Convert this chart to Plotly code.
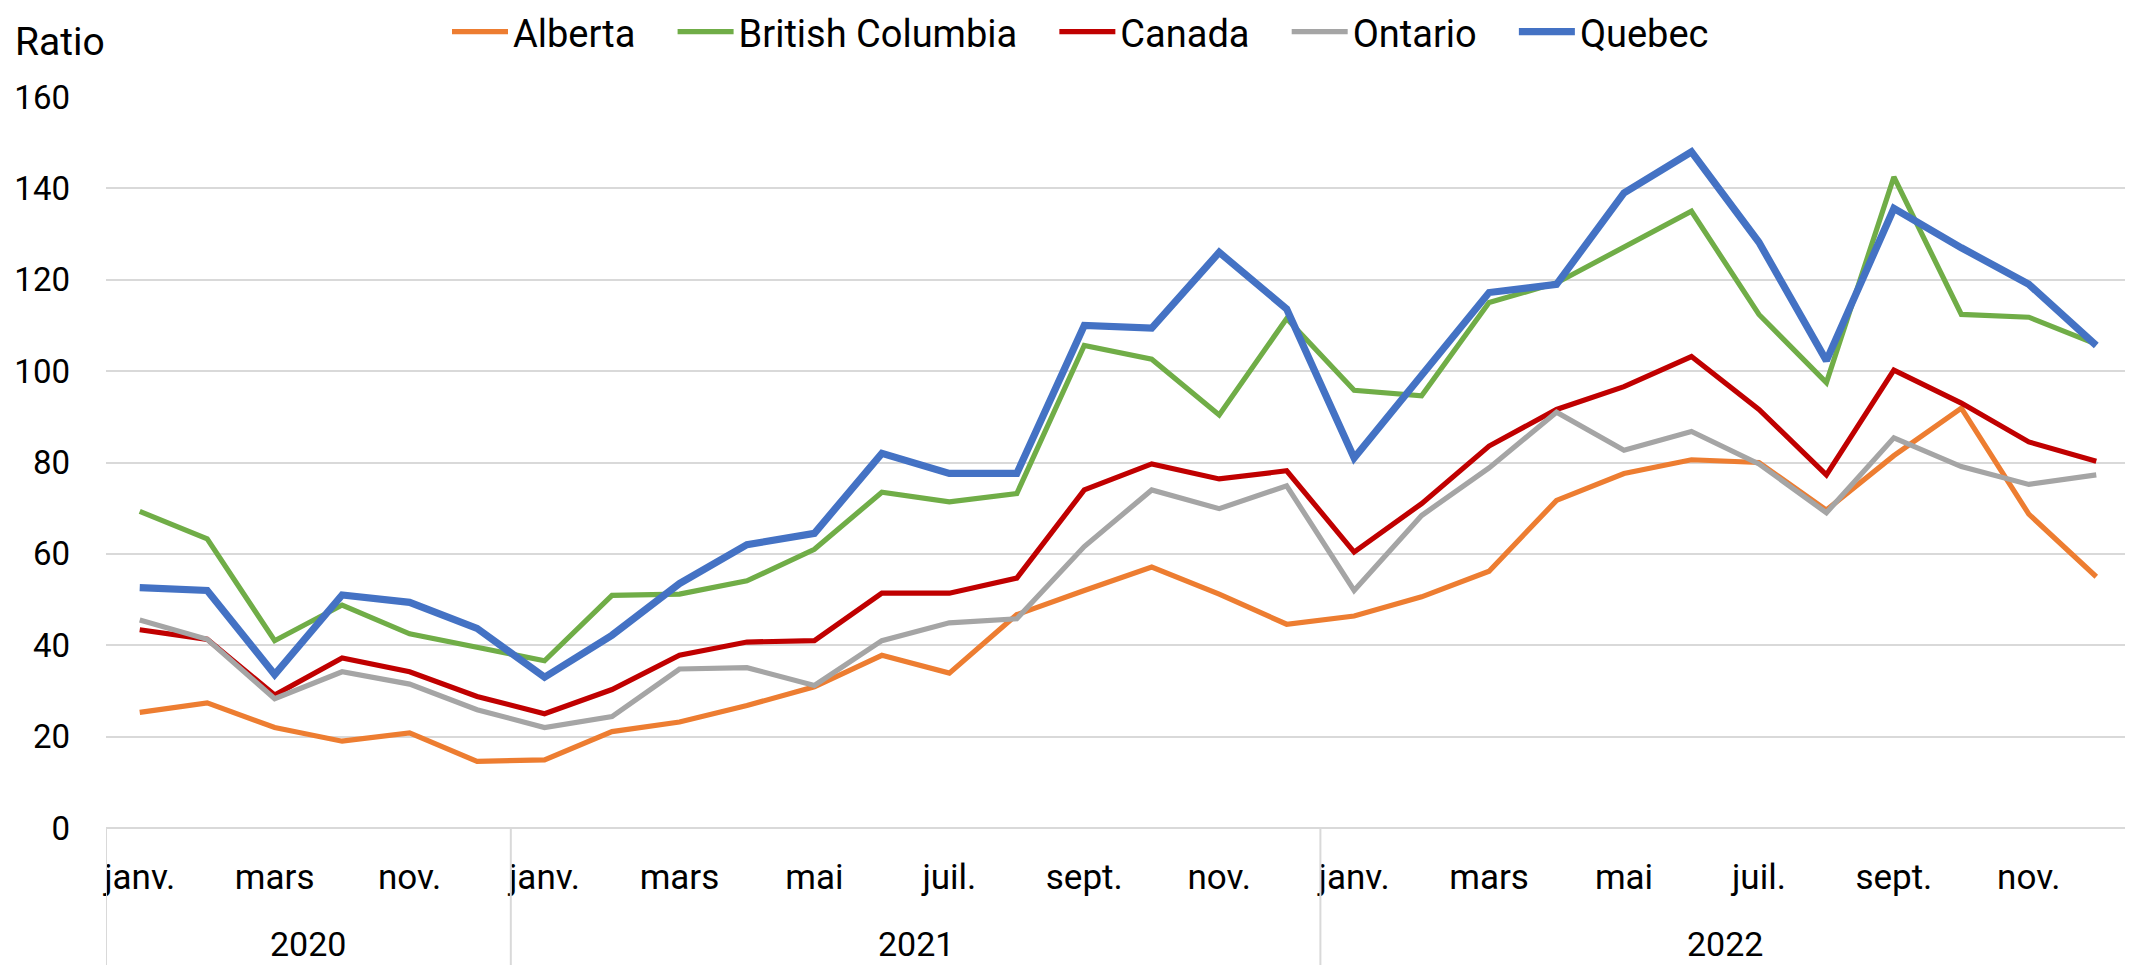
import plotly.graph_objects as go

# ---- data ----
years = ["2020", "2021", "2022"]
months_2020 = ["janv.", "févr.", "mars", "oct.", "nov.", "déc."]
months_full = ["janv.", "févr.", "mars", "avr.", "mai", "juin",
               "juil.", "août", "sept.", "oct.", "nov.", "déc."]
months_by_year = [months_2020, months_full, months_full]

alberta = [25.3, 27.4, 22.0, 19.0, 20.8, 14.6,
           14.9, 21.1, 23.2, 26.8, 30.9, 37.8, 33.9, 46.7, 52.0, 57.1, 51.2, 44.6,
           46.4, 50.6, 56.2, 71.7, 77.6, 80.6, 80.0, 69.6, 81.5, 91.9, 68.7, 55.0]
british_columbia = [69.3, 63.3, 41.0, 48.8, 42.5, 39.6,
                    36.6, 50.9, 51.2, 54.1, 61.0, 73.5, 71.4, 73.2, 105.6, 102.6, 90.4, 111.5,
                    95.8, 94.6, 115.0, 119.3, 127.3, 135.0, 112.4, 97.5, 142.5, 112.4, 111.8, 105.9]
canada = [43.4, 41.3, 29.1, 37.2, 34.2, 28.8,
          25.0, 30.3, 37.8, 40.7, 41.0, 51.4, 51.4, 54.7, 74.0, 79.7, 76.4, 78.2,
          60.4, 71.0, 83.6, 91.6, 96.6, 103.2, 91.6, 77.3, 100.2, 93.0, 84.5, 80.3]
ontario = [45.5, 41.3, 28.3, 34.2, 31.5, 25.9,
           22.0, 24.4, 34.8, 35.1, 31.2, 41.0, 44.9, 45.8, 61.6, 74.0, 69.9, 74.9,
           52.0, 68.4, 78.8, 91.0, 82.7, 86.8, 79.7, 69.0, 85.4, 79.1, 75.2, 77.3]
quebec = [52.6, 52.0, 33.6, 51.0, 49.4, 43.7,
          33.0, 42.2, 53.5, 62.0, 64.5, 82.0, 77.6, 77.6, 110.0, 109.4, 126.0, 113.6,
          81.0, 98.8, 117.2, 119.0, 139.0, 148.0, 128.2, 102.3, 135.6, 127.0, 119.0, 105.6]

series_names = ["Alberta", "British Columbia", "Canada", "Ontario", "Quebec"]
series_values = [alberta, british_columbia, canada, ontario, quebec]
y_ticks = [0, 20, 40, 60, 80, 100, 120, 140, 160]
y_title = "Ratio"

# ---- styles ----
colors = ["#ED7D31", "#70AD47", "#C00000", "#A5A5A5", "#4472C4"]
widths = [5.2, 5.2, 5.2, 5.2, 7.2]
FONT = "Roboto"
GRID = "#D9D9D9"
PAD = "\u00a0" * 3 + "\u200a"

categories = [m for ms in months_by_year for m in ms]
x_idx = list(range(len(categories)))

fig = go.Figure()
for name, vals, c, w in zip(series_names, series_values, colors, widths):
    fig.add_trace(go.Scatter(x=x_idx, y=vals, mode="lines", name=name + PAD,
                             line=dict(color=c, width=w)))

# page body has an 8px default margin; the figure is offset by it
OFF = 8
W, H = 2133 - OFF, 965 - OFF
ml, mr, mt, mb = 106 - OFF, 3, 97 - OFF, 137
plot_h = H - mt - mb
plot_w = W - ml - mr

# year dividers and labels
shapes = []
annotations = []
start = 0
bottom = -mb / plot_h
bounds = [-0.5]
for yr, ms in zip(years, months_by_year):
    end = start + len(ms)
    bounds.append(end - 0.5)
    annotations.append(dict(x=(start + end - 1) / 2,
                            y=-((944 - OFF) - (H - mb)) / plot_h,
                            xref="x", yref="paper", text=yr, showarrow=False,
                            font=dict(family=FONT, size=34, color="black"),
                            xanchor="center", yanchor="middle"))
    start = end
for b in bounds[:-1]:
    shapes.append(dict(type="line", xref="x", yref="paper", x0=b, x1=b,
                       y0=0, y1=bottom, line=dict(color=GRID, width=2)))

annotations.append(dict(x=-(ml - (13 - OFF)) / plot_w,
                        y=1 + (mt - (42 - OFF)) / plot_h,
                        xref="paper", yref="paper", text=y_title, showarrow=False,
                        font=dict(family=FONT, size=39, color="black"),
                        xanchor="left", yanchor="middle"))

fig.update_layout(
    width=W, height=H,
    margin=dict(l=ml, r=mr, t=mt, b=mb, autoexpand=False),
    paper_bgcolor="white", plot_bgcolor="white",
    font=dict(family=FONT, color="black"),
    showlegend=True,
    legend=dict(orientation="h", x=(439 - ml) / plot_w, xanchor="left",
                y=1 + (mt - (32 - OFF)) / plot_h, yanchor="middle",
                itemwidth=56,
                font=dict(family=FONT, size=38, color="black"),
                bgcolor="rgba(0,0,0,0)"),
    shapes=shapes,
    annotations=annotations,
)
fig.update_xaxes(range=[-0.5, len(categories) - 0.5],
                 tickmode="array",
                 tickvals=x_idx[::2], ticktext=categories[::2],
                 showgrid=False, zeroline=False, showline=False,
                 ticks="", ticklabelstandoff=25,
                 tickfont=dict(family=FONT, size=35, color="black"))
fig.update_yaxes(range=[0, 160], tickmode="array", tickvals=y_ticks,
                 showgrid=True, gridcolor=GRID, gridwidth=2,
                 zeroline=True, zerolinecolor=GRID, zerolinewidth=2,
                 showline=False, ticks="", ticklabelstandoff=35,
                 tickfont=dict(family=FONT, size=33, color="black"))

fig.write_html("out.html")
